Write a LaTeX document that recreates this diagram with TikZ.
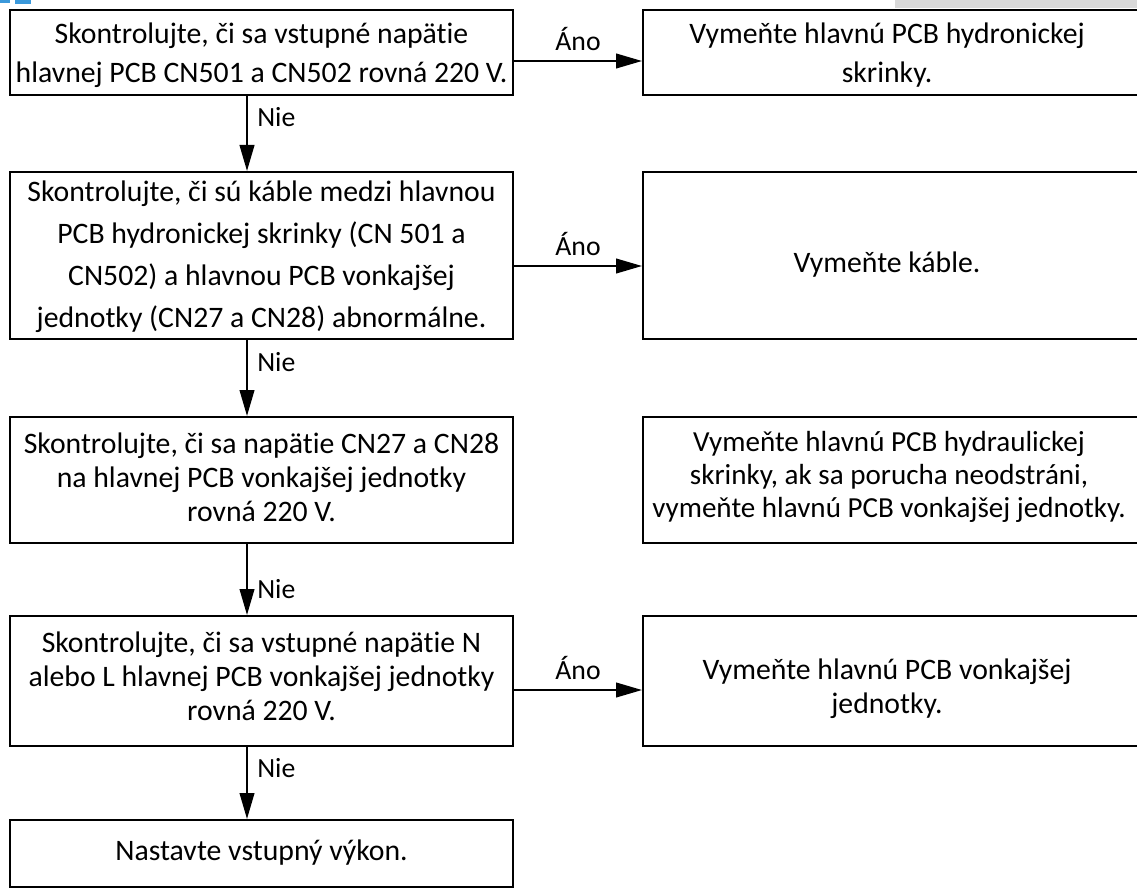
\documentclass[tikz,border=0pt]{standalone}
\usepackage{fontspec}
\setmainfont{Carlito}[Ligatures=CommonOff]
\usetikzlibrary{arrows.meta}
\begin{document}
\begin{tikzpicture}[x=0.75pt,y=-0.75pt,
  box/.style={draw, line width=1.5pt, inner sep=0pt, align=center},
  txt/.style={font=\fontsize{22.3pt}{25.5pt}\selectfont, align=center, inner sep=0pt},
  wide/.style={font=\fontsize{22.3pt}{29pt}\selectfont},
  wider/.style={font=\fontsize{22.3pt}{31.5pt}\selectfont},
  arr/.style={line width=1.5pt, -{Triangle[length=19.5pt,width=11pt]}},
  lbl/.style={font=\fontsize{20.8pt}{25pt}\selectfont, inner sep=0pt}]
\useasboundingbox (0,0) rectangle (1137,895);
\clip (0,0) rectangle (1137,895);
% page fragments
\fill[black!15] (895,0) rectangle (1137,8);
\fill[cyan!70!blue!80] (0,0) rectangle (10,3.5);
\fill[cyan!70!blue!80] (15,0) rectangle (31,4);
% left column
\node[box, minimum width=377.25pt, minimum height=63.75pt] (b1) at (261.5,52.5) {};
\node[txt, wide] (b1t) at (261.5,55) {Skontrolujte, či sa vstupné napätie\\hlavnej PCB CN501 a CN502 rovná 220 V.};
\node[box, minimum width=377.25pt, minimum height=125.25pt] (b2) at (261.5,255.5) {};
\node[txt, wider] (b2t) at (261.5,257) {Skontrolujte, či sú káble medzi hlavnou\\PCB hydronickej skrinky (CN 501 a\\CN502) a hlavnou PCB vonkajšej\\jednotky (CN27 a CN28) abnormálne.};
\node[box, minimum width=377.25pt, minimum height=94.5pt] (b3) at (261.5,480) {};
\node[txt] (b3t) at (261.5,477) {Skontrolujte, či sa napätie CN27 a CN28\\na hlavnej PCB vonkajšej jednotky\\rovná 220 V.};
\node[box, minimum width=377.25pt, minimum height=97.5pt] (b4) at (261.5,681) {};
\node[txt] (b4t) at (261.5,676) {Skontrolujte, či sa vstupné napätie N\\alebo L hlavnej PCB vonkajšej jednotky\\rovná 220 V.};
\node[box, minimum width=377.25pt, minimum height=50.25pt] (b5) at (261.5,853.5) {};
\node[txt] (b5t) at (261.5,853) {Nastavte vstupný výkon.};
% right column
\node[box, minimum width=380.25pt, minimum height=63.75pt] (r1) at (896.5,52.5) {};
\node[txt, wide] (r1t) at (887,55) {Vymeňte hlavnú PCB hydronickej\\skrinky.};
\node[box, minimum width=380.25pt, minimum height=125.25pt] (r2) at (896.5,255.5) {};
\node[txt] (r2t) at (887,265) {Vymeňte káble.};
\node[box, minimum width=380.25pt, minimum height=94.5pt] (r3) at (896.5,480) {};
\node[txt, font=\fontsize{21.8pt}{24.5pt}\selectfont] (r3t) at (889,477) {Vymeňte hlavnú PCB hydraulickej\\skrinky, ak sa porucha neodstráni,\\vymeňte hlavnú PCB vonkajšej jednotky.};
\node[box, minimum width=380.25pt, minimum height=97.5pt] (r4) at (896.5,681) {};
\node[txt] (r4t) at (887,689) {Vymeňte hlavnú PCB vonkajšej\\jednotky.};
% helper coordinates
\coordinate (ax) at (247,0);
\coordinate (y1) at (0,61);
\coordinate (y2) at (0,266);
\coordinate (y4) at (0,690);
% horizontal arrows
\draw[arr] (b1.east |- y1) -- node[lbl, above=6.75pt] (a1) {Áno} (r1.west |- y1);
\draw[arr] (b2.east |- y2) -- node[lbl, above=6.75pt] (a2) {Áno} (r2.west |- y2);
\draw[arr] (b4.east |- y4) -- node[lbl, above=6.75pt] (a4) {Áno} (r4.west |- y4);
% vertical arrows
\draw[arr] (ax |- b1.south) -- (ax |- b2.north);
\draw[arr] (ax |- b2.south) -- (ax |- b3.north);
\draw[arr] (ax |- b3.south) -- (ax |- b4.north);
\draw[arr] (ax |- b4.south) -- (ax |- b5.north);
\node[lbl, anchor=base west] (n1) at (257,127) {Nie};
\node[lbl, anchor=base west] (n2) at (257,371) {Nie};
\node[lbl, anchor=base west] (n3) at (257,598) {Nie};
\node[lbl, anchor=base west] (n4) at (257,777) {Nie};
\end{tikzpicture}
\end{document}
